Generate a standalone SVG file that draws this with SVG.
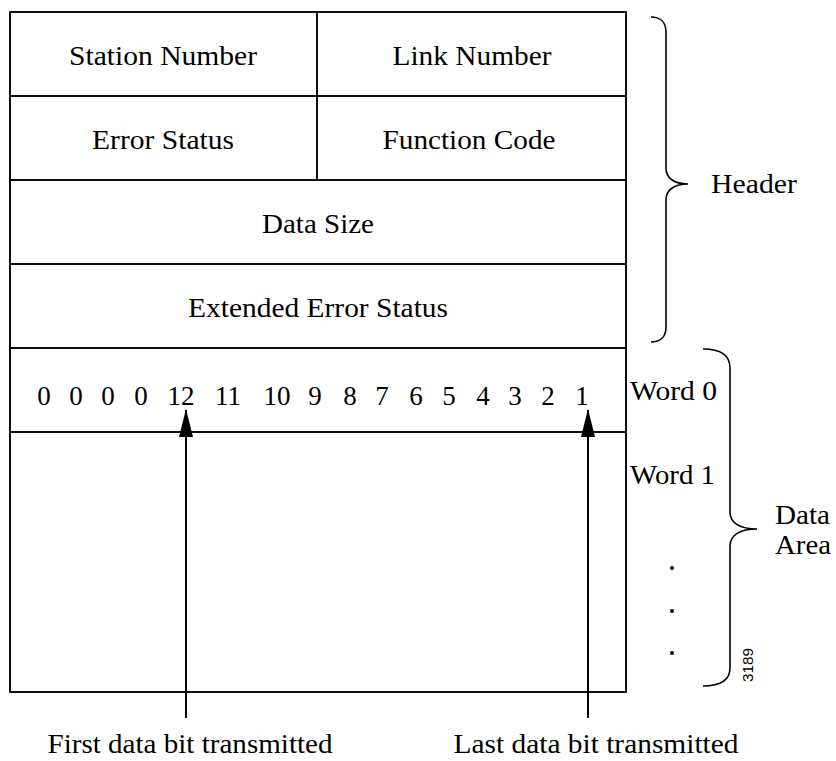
<svg xmlns="http://www.w3.org/2000/svg" width="836" height="761" viewBox="0 0 836 761">
<style>
.t{font-family:"Liberation Serif","Times New Roman",serif;font-size:27px;fill:#000;}
.c{text-anchor:middle;}
.ln{stroke:#000;stroke-width:1.5;fill:none;}
.br{stroke:#000;stroke-width:1.6;fill:none;}
.ar{stroke:#000;stroke-width:2;fill:none;}
</style>
<defs>
<marker id="ah" markerWidth="28" markerHeight="14" refX="27" refY="7" orient="auto" markerUnits="userSpaceOnUse" viewBox="0 0 28 14">
<path d="M0,0 L28,7 L0,14 Z" fill="#000"/>
</marker>
</defs>
<rect width="836" height="761" fill="#fff"/>
<g id="frame">
<rect x="10" y="12" width="616" height="680" class="ln"/>
</g>
<g id="station-number">
<rect x="10" y="12" width="307" height="84" class="ln"/>
<text class="t c" x="163" y="65" textLength="188" lengthAdjust="spacingAndGlyphs">Station Number</text>
</g>
<g id="link-number">
<rect x="317" y="12" width="309" height="84" class="ln"/>
<text class="t c" x="472" y="65" textLength="159" lengthAdjust="spacingAndGlyphs">Link Number</text>
</g>
<g id="error-status">
<rect x="10" y="96" width="307" height="84" class="ln"/>
<text class="t c" x="163" y="149" textLength="142" lengthAdjust="spacingAndGlyphs">Error Status</text>
</g>
<g id="function-code">
<rect x="317" y="96" width="309" height="84" class="ln"/>
<text class="t c" x="469" y="149" textLength="173" lengthAdjust="spacingAndGlyphs">Function Code</text>
</g>
<g id="data-size">
<rect x="10" y="180" width="616" height="84" class="ln"/>
<text class="t c" x="318" y="233" textLength="112" lengthAdjust="spacingAndGlyphs">Data Size</text>
</g>
<g id="extended-error-status">
<rect x="10" y="264" width="616" height="84" class="ln"/>
<text class="t c" x="318" y="317" textLength="260" lengthAdjust="spacingAndGlyphs">Extended Error Status</text>
</g>
<g id="word0">
<rect x="10" y="348" width="616" height="84" class="ln"/>
<text class="t c" x="44" y="405">0</text>
<text class="t c" x="76" y="405">0</text>
<text class="t c" x="108" y="405">0</text>
<text class="t c" x="141" y="405">0</text>
<text class="t c" x="181" y="405">12</text>
<text class="t c" x="228" y="405">11</text>
<text class="t c" x="277" y="405">10</text>
<text class="t c" x="315" y="405">9</text>
<text class="t c" x="350" y="405">8</text>
<text class="t c" x="382" y="405">7</text>
<text class="t c" x="416" y="405">6</text>
<text class="t c" x="449" y="405">5</text>
<text class="t c" x="483" y="405">4</text>
<text class="t c" x="515" y="405">3</text>
<text class="t c" x="548" y="405">2</text>
<text class="t c" x="582" y="405">1</text>
</g>
<g id="word1-area">
<rect x="10" y="432" width="616" height="260" class="ln"/>
</g>
<g id="connectors">
<line x1="186" y1="718" x2="186" y2="410" class="ar" marker-end="url(#ah)"/>
<line x1="588" y1="718" x2="588" y2="410" class="ar" marker-end="url(#ah)"/>
</g>
<g id="header-brace">
<path class="br" d="M651,17 C660,17 666,22 666,32 L666,168 C666,178 674,184 688,184 C674,184 666,190 666,200 L666,327 C666,337 660,342 651,342"/>
<text class="t" x="711" y="193" textLength="86" lengthAdjust="spacingAndGlyphs">Header</text>
</g>
<g id="data-brace">
<path class="br" d="M703,349 C720,349 730,355 730,368 L730,512 C730,523 740,529 757,529 C740,529 730,535 730,546 L730,668 C730,680 720,686 703,686"/>
<text class="t" x="775" y="524" textLength="55" lengthAdjust="spacingAndGlyphs">Data</text>
<text class="t" x="775" y="554" textLength="56" lengthAdjust="spacingAndGlyphs">Area</text>
</g>
<g id="word-labels">
<text class="t" x="630" y="400" textLength="87" lengthAdjust="spacingAndGlyphs">Word 0</text>
<text class="t" x="630" y="484" textLength="85" lengthAdjust="spacingAndGlyphs">Word 1</text>
<circle cx="672" cy="568" r="2" fill="#000"/>
<circle cx="672" cy="611" r="2" fill="#000"/>
<circle cx="672" cy="653" r="2" fill="#000"/>
</g>
<g id="figure-number">
<text transform="translate(753,665) rotate(-90)" text-anchor="middle" font-family="Liberation Sans, Arial, sans-serif" font-size="14" textLength="34" lengthAdjust="spacingAndGlyphs">3189</text>
</g>
<g id="captions">
<text class="t c" x="190" y="753" textLength="285" lengthAdjust="spacingAndGlyphs">First data bit transmitted</text>
<text class="t c" x="596" y="753" textLength="285" lengthAdjust="spacingAndGlyphs">Last data bit transmitted</text>
</g>
</svg>
